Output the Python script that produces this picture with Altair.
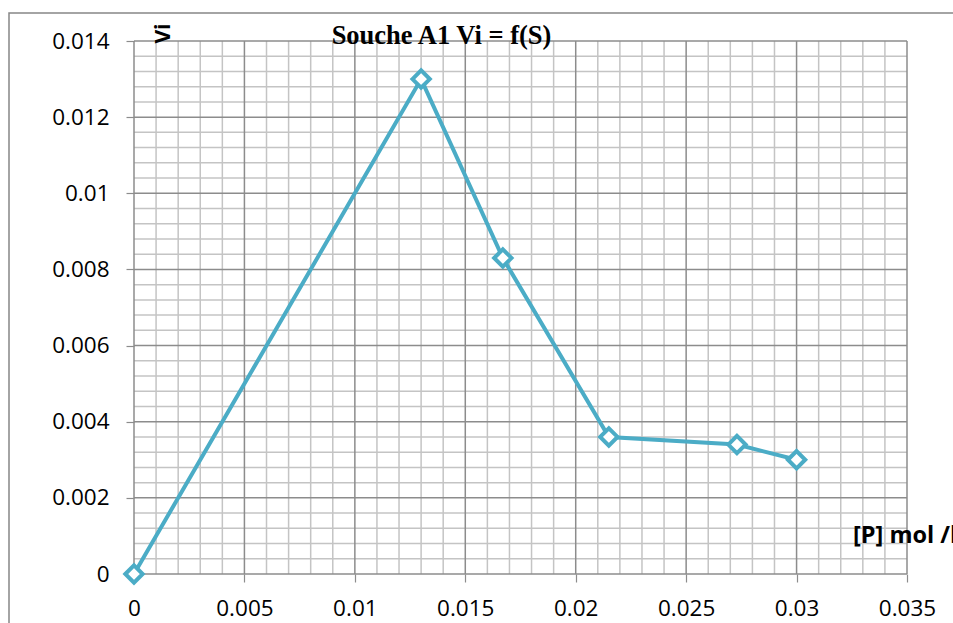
import altair as alt
import pandas as pd

# Measured points: product concentration [P] (mol/l) vs initial rate Vi
conc = [0.0, 0.013, 0.0167, 0.0215, 0.0273, 0.030]
rate = [0.0, 0.013, 0.0083, 0.0036, 0.0034, 0.0030]

# Axis ticks (major) and the finer millimetre-style grid
x_major = [0.0, 0.005, 0.01, 0.015, 0.02, 0.025, 0.03, 0.035]
y_major = [0.0, 0.002, 0.004, 0.006, 0.008, 0.01, 0.012, 0.014]
x_minor = [i / 1000 for i in range(36) if i % 5]
y_minor = [i * 0.0004 for i in range(36) if i % 5]

SERIES = "#4BACC6"
MAJOR_GRID = "#8c8c8c"
MINOR_GRID = "#c4c4c4"
TICK_FONT = "Open Sans"

pts = pd.DataFrame({"P": conc, "Vi": rate})

x_scale = alt.Scale(domain=[0, 0.035], nice=False, zero=False)
y_scale = alt.Scale(domain=[0, 0.014], nice=False, zero=False)

x_axis = alt.Axis(
    values=x_major, format="~g", title=None, grid=False, domain=False,
    tickSize=8, tickColor=MAJOR_GRID, tickWidth=1.2,
    labelFont=TICK_FONT, labelFontSize=22.5, labelColor="black",
    labelPadding=15, labelFlush=False,
)
y_axis = alt.Axis(
    values=y_major, format="~g", title=None, grid=False, domain=False,
    tickSize=8, tickColor=MAJOR_GRID, tickWidth=1.2,
    labelFont=TICK_FONT, labelFontSize=22.5, labelColor="black",
    labelPadding=17, labelFlush=False,
)


def xq(field):
    return alt.X(field, type="quantitative", scale=x_scale, axis=x_axis)


def yq(field):
    return alt.Y(field, type="quantitative", scale=y_scale, axis=y_axis)


# Grid lines drawn as rules so minor and major lines can differ in tone
vminor = alt.Chart(pd.DataFrame({"P": x_minor})).mark_rule(
    color=MINOR_GRID, strokeWidth=1.5
).encode(x=xq("P"))
hminor = alt.Chart(pd.DataFrame({"Vi": y_minor})).mark_rule(
    color=MINOR_GRID, strokeWidth=1.5
).encode(y=yq("Vi"))
vmajor = alt.Chart(pd.DataFrame({"P": x_major})).mark_rule(
    color=MAJOR_GRID, strokeWidth=1.5
).encode(x=xq("P"))
hmajor = alt.Chart(pd.DataFrame({"Vi": y_major})).mark_rule(
    color=MAJOR_GRID, strokeWidth=1.5
).encode(y=yq("Vi"))

line = alt.Chart(pts).mark_line(color=SERIES, strokeWidth=4).encode(
    x=xq("P"), y=yq("Vi")
)
markers = alt.Chart(pts).mark_point(
    shape="diamond", size=300, filled=True, fill="white",
    stroke=SERIES, strokeWidth=4, opacity=1,
).encode(x=xq("P"), y=yq("Vi"))

one = pd.DataFrame({"k": [0]})

# Outer chart-area frame
frame = alt.Chart(one).mark_rect(
    fill=None, stroke="#868686", strokeWidth=1.5
).encode(
    x=alt.value(-125), x2=alt.value(900), y=alt.value(-28), y2=alt.value(700)
)

title = alt.Chart(one).mark_text(
    text="Souche A1 Vi = f(S)", font="Liberation Serif", fontWeight="bold",
    fontSize=26.5, align="center", baseline="alphabetic", color="black",
).encode(x=alt.value(307.5), y=alt.value(2.5))

y_title = alt.Chart(one).mark_text(
    text="Vi", font=TICK_FONT, fontWeight="bold", fontSize=21,
    angle=270, align="center", baseline="alphabetic", color="black",
).encode(x=alt.value(36), y=alt.value(-7.5))

x_title = alt.Chart(one).mark_text(
    text="[P] mol /l", font=TICK_FONT, fontWeight="bold", fontSize=23.5,
    align="left", baseline="alphabetic", color="black",
).encode(x=alt.value(719), y=alt.value(502))

chart = alt.layer(
    frame, vminor, hminor, vmajor, hmajor, line, markers, title, y_title, x_title
).properties(
    width=773,
    height=533,
    padding={"left": 134, "top": 41, "right": 46, "bottom": 49},
    autosize=alt.AutoSizeParams(type="none"),
    background="white",
).configure_view(stroke=None)

chart.save("out.html", embed_options={"renderer": "svg", "actions": False})
